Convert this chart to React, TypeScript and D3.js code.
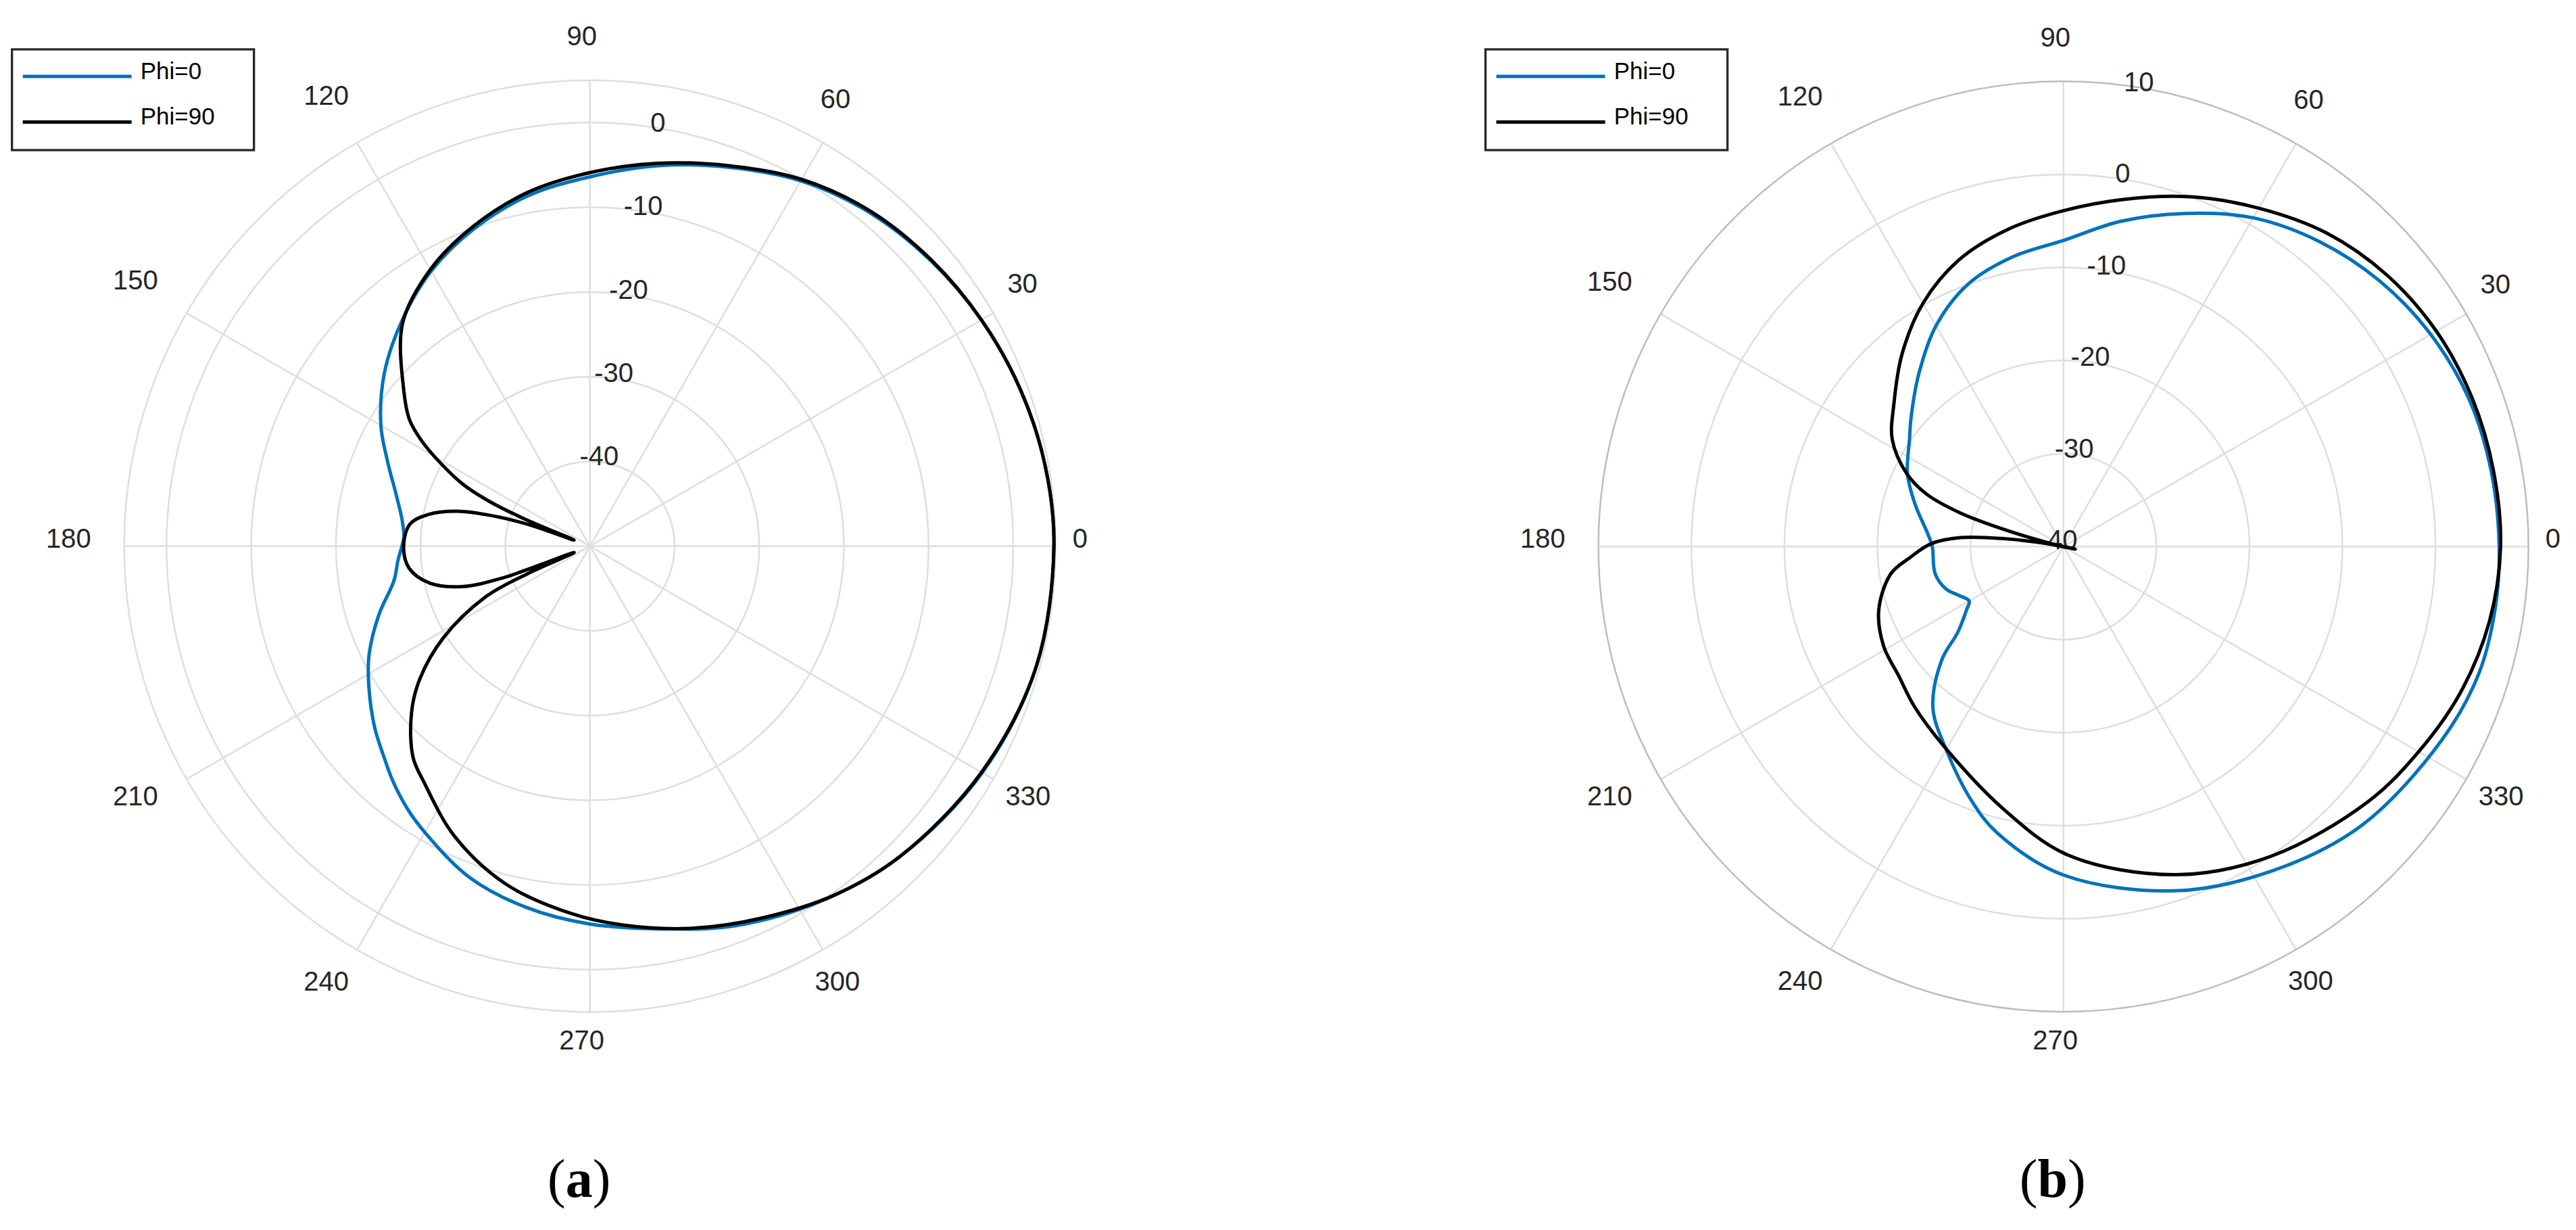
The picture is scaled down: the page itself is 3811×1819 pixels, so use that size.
import React from "react";
import * as d3 from "d3";

// ---- panel (a): gain (dB), theta in degrees ----
const aPhi0Theta = [0, 10, 20, 30, 40, 50, 60, 70, 80, 90, 100, 110, 120, 130, 140, 150, 157, 165, 172, 177, 180, 184, 190, 198, 206, 212, 220, 226, 230, 235, 240, 250, 260, 270, 282, 291, 303, 315, 330, 345];
const aPhi0Gain = [4.8, 4.6, 4.1, 3.4, 2.5, 1.4, -0.2, -2.4, -4.4, -6.4, -8.0, -10.1, -12.5, -15.4, -18.3, -21.5, -24.0, -26.3, -27.6, -28.0, -27.8, -27.3, -26.5, -23.8, -21.0, -19.2, -16.8, -15.1, -13.8, -12.3, -11.0, -8.4, -6.7, -5.4, -3.8, -2.0, 0.0, 1.8, 3.5, 4.6];

const aPhi90Theta = [0, 10, 20, 30, 40, 50, 60, 70, 80, 90, 100, 110, 120, 130, 140, 145, 148, 151, 154, 156, 157.5, 159, 160.5, 162.5, 165, 169, 173, 180, 187, 193, 197.5, 200, 202, 203.8, 206, 212, 218, 223, 230, 235, 245, 256, 267, 275, 285, 295, 305, 315, 330, 345];
const aPhi90Gain = [4.8, 4.6, 4.1, 3.4, 2.6, 1.6, 0.0, -2.2, -4.1, -5.9, -7.6, -9.8, -12.3, -15.6, -21.3, -24.0, -26.6, -29.9, -33.3, -37.0, -42.0, -48.0, -42.5, -38.3, -34.1, -30.5, -28.6, -28.0, -28.5, -30.6, -34.1, -39.0, -48.0, -42.0, -36.2, -29.6, -24.5, -21.2, -17.5, -15.9, -12.2, -8.9, -6.6, -5.1, -3.3, -1.6, 0.3, 1.8, 3.4, 4.6];

// ---- panel (b) ----
const bPhi0Theta = [0, 10, 20, 30, 40, 50, 60, 70, 80, 90, 100, 110, 120, 130, 140, 145, 155, 164, 175, 180, 192, 200, 205, 210, 213, 219, 223, 231, 240, 250, 257, 270, 288, 303, 317, 333, 343, 352];
const bPhi0Gain = [6.85, 6.7, 6.4, 5.6, 4.4, 2.8, 0.8, -1.9, -4.5, -7.1, -8.4, -10.0, -12.6, -15.8, -18.6, -19.8, -21.5, -23.4, -25.4, -25.9, -25.9, -26.6, -27.6, -28.3, -27.6, -25.4, -22.1, -17.7, -14.8, -11.0, -8.4, -4.7, -1.1, 1.5, 3.9, 5.7, 6.7, 6.9];

const bPhi90Theta = [0, 10, 20, 30, 40, 50, 60, 70, 80, 90, 100, 110, 120, 130, 140, 148, 155, 159, 162, 164, 166, 168, 170, 172.3, 175, 178.7, 184, 189, 199, 209, 218, 227, 239, 257, 271, 289, 304, 320, 330, 340, 350];
const bPhi90Gain = [7.0, 6.95, 6.75, 6.3, 5.4, 4.0, 2.0, 0.0, -2.1, -3.9, -5.4, -7.2, -9.8, -13.0, -16.2, -18.3, -21.4, -24.2, -28.4, -33.5, -38.5, -41.3, -38.0, -33.7, -28.9, -25.8, -23.5, -21.2, -19.0, -17.9, -17.5, -16.5, -15.0, -11.1, -6.8, -2.7, 0.1, 2.7, 4.1, 5.5, 6.5];

const thetaTicks = [0, 30, 60, 90, 120, 150, 180, 210, 240, 270, 300, 330];
const aRTicks = [-40, -30, -20, -10, 0];
const bRTicks = [-40, -30, -20, -10, 0, 10];
const legendNames = ["Phi=0", "Phi=90"];

const BLUE = "#0072BD";
const INK = "#262626";
const GRID = "#dedede";
const FONT = "'Liberation Sans', Arial, Helvetica, sans-serif";

type Series = { name: string; color: string; theta: number[]; gain: number[] };

const rad = (deg: number) => (deg * Math.PI) / 180;

const PolarPanel = ({ cx, cy, rMin, rMax, radius, rTicks, outerColor, series, caption }: {
  cx: number; cy: number; rMin: number; rMax: number; radius: number;
  rTicks: number[]; outerColor: string; series: Series[]; caption: string;
}) => {
  const r = d3.scaleLinear().domain([rMin, rMax]).range([0, radius]);
  const line = d3
    .lineRadial<[number, number]>()
    .angle((d) => rad(90 - d[0]))
    .radius((d) => r(d[1]))
    .curve(d3.curveCatmullRomClosed.alpha(0.5));

  const rings = rTicks.filter((t) => t > rMin && t < rMax);

  // theta labels sit outside the rim, pushed out by half the label box
  const thetaLabel = (t: number) => {
    const s = String(t);
    const w = 22.24 * s.length - 4;
    const c = Math.cos(rad(t));
    const sn = Math.sin(rad(t));
    const R = radius + 39 + (w / 2) * Math.abs(c) + 14.5 * Math.abs(sn);
    return { x: cx - 12 + R * c, y: cy - 12 - R * sn, s };
  };

  const lx = cx - 855;
  const ly = 73;

  return (
    <g>
      {/* grid */}
      {rings.map((t) => (
        <circle key={t} cx={cx} cy={cy} r={r(t)} fill="none" stroke={GRID} strokeWidth={2.5} />
      ))}
      {thetaTicks.map((t) => (
        <line
          key={t}
          x1={cx}
          y1={cy}
          x2={cx + radius * Math.cos(rad(t))}
          y2={cy - radius * Math.sin(rad(t))}
          stroke={GRID}
          strokeWidth={2.5}
        />
      ))}
      <circle cx={cx} cy={cy} r={radius} fill="none" stroke={outerColor} strokeWidth={2.5} />

      {/* theta tick labels */}
      {thetaTicks.map((t) => {
        const p = thetaLabel(t);
        return (
          <text key={t} x={p.x} y={p.y} textAnchor="middle" dominantBaseline="central"
            fontFamily={FONT} fontSize={40} fill={INK}>
            {p.s}
          </text>
        );
      })}

      {/* r tick labels along 80 deg */}
      {rTicks.map((t) => (
        <text key={t}
          x={cx + r(t) * Math.cos(rad(80)) - 8}
          y={cy - r(t) * Math.sin(rad(80)) - 10}
          textAnchor="middle" dominantBaseline="central"
          fontFamily={FONT} fontSize={40} fill={INK}>
          {t}
        </text>
      ))}

      {/* curves */}
      <g transform={`translate(${cx},${cy})`}>
        {series.map((s) => (
          <path key={s.name}
            d={line(s.theta.map((t, i) => [t, s.gain[i]] as [number, number])) || ""}
            fill="none" stroke={s.color} strokeWidth={5} strokeLinejoin="round" />
        ))}
      </g>

      {/* legend */}
      <rect x={lx} y={ly} width={358} height={149} fill="#fff" stroke={INK} strokeWidth={3.3} />
      {series.map((s, i) => (
        <g key={s.name}>
          <line x1={lx + 16} x2={lx + 177} y1={ly + 40 + i * 67.4} y2={ly + 40 + i * 67.4}
            stroke={s.color} strokeWidth={5} />
          <text x={lx + 190} y={ly + 43.5 + i * 67.4} fontFamily={FONT} fontSize={35} fill="#000">
            {s.name}
          </text>
        </g>
      ))}

      {/* caption */}
      <text x={cx - 16} y={1770} textAnchor="middle" fontFamily="'Liberation Serif', 'Times New Roman', serif"
        fontSize={80} fill="#000">
        (<tspan fontWeight="bold">{caption}</tspan>)
      </text>
    </g>
  );
};

export default function App() {
  const aSeries: Series[] = [
    { name: legendNames[0], color: BLUE, theta: aPhi0Theta, gain: aPhi0Gain },
    { name: legendNames[1], color: "#000", theta: aPhi90Theta, gain: aPhi90Gain },
  ];
  const bSeries: Series[] = [
    { name: legendNames[0], color: BLUE, theta: bPhi0Theta, gain: bPhi0Gain },
    { name: legendNames[1], color: "#000", theta: bPhi90Theta, gain: bPhi90Gain },
  ];
  return (
    <svg width={3811} height={1819} style={{ position: "absolute", left: 0, top: 0, background: "#fff" }}>
      <rect width={3811} height={1819} fill="#fff" />
      <PolarPanel cx={872.7} cy={807.7} rMin={-50} rMax={5} radius={689} rTicks={aRTicks}
        outerColor={GRID} series={aSeries} caption="a" />
      <PolarPanel cx={3052.7} cy={808.3} rMin={-40} rMax={10} radius={688} rTicks={bRTicks}
        outerColor="#bdbdbd" series={bSeries} caption="b" />
    </svg>
  );
}
